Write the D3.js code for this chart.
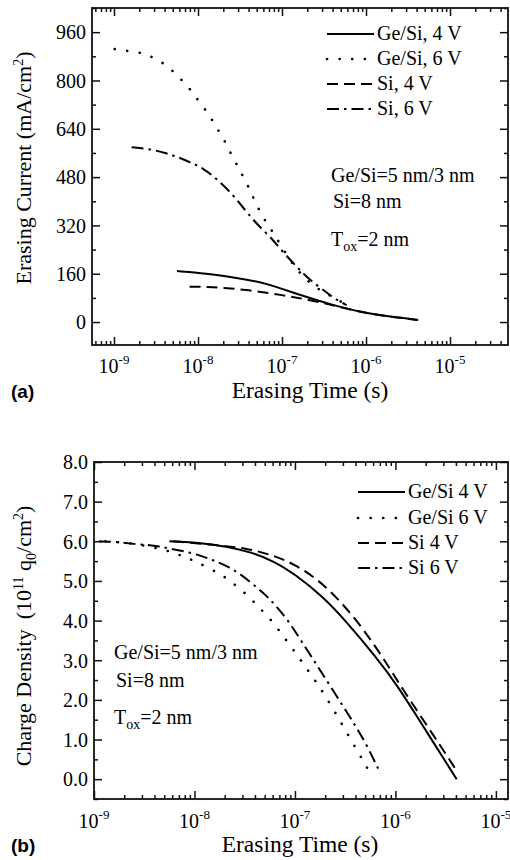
<!DOCTYPE html>
<html><head><meta charset="utf-8">
<script src="https://cdn.jsdelivr.net/npm/d3@7"></script>
<style>
body{margin:0;background:#fff}
svg{display:block}
text{font-family:"Liberation Serif","Times New Roman",serif;fill:#000}
</style>
</head><body>
<svg id="c" width="510" height="860"></svg>
<script>
// ---------- DATA ----------
const legendA = ["Ge/Si, 4 V", "Ge/Si, 6 V", "Si, 4 V", "Si, 6 V"];
const legendB = ["Ge/Si 4 V", "Ge/Si 6 V", "Si 4 V", "Si 6 V"];
const yTicksA = [0, 160, 320, 480, 640, 800, 960];
const yMinorA = [-80, 80, 240, 400, 560, 720, 880, 1040];
const yTicksB = [0, 1, 2, 3, 4, 5, 6, 7, 8];
const yMinorB = [-0.5, 0.5, 1.5, 2.5, 3.5, 4.5, 5.5, 6.5, 7.5];
const xDecades = [-9, -8, -7, -6, -5];
const notes = ["Ge/Si=5 nm/3 nm", "Si=8 nm"];

// (a) erasing current, mA/cm^2
const tGeSi4A = [5.62e-9, 7.94e-9, 1.05e-8, 2.63e-8, 6.61e-8, 1.62e-7, 4.07e-7, 8.51e-7, 2.0e-6, 4.17e-6];
const iGeSi4A = [169, 166, 162, 149, 129, 89, 56, 33, 17, 7];
const tGeSi6A = [1.02e-9, 1.48e-9, 2.09e-9, 2.88e-9, 4.27e-9, 5.89e-9, 7.94e-9, 1.02e-8, 1.32e-8, 1.62e-8, 2.0e-8, 2.40e-8, 2.88e-8, 3.47e-8, 4.17e-8, 4.79e-8, 5.89e-8, 7.24e-8, 8.32e-8, 1.10e-7, 1.51e-7, 2.14e-7, 3.09e-7, 4.07e-7, 5.89e-7];
const iGeSi6A = [904, 897, 893, 877, 851, 811, 775, 731, 692, 649, 609, 563, 523, 480, 437, 397, 348, 311, 285, 228, 172, 129, 99, 83, 56];
const tSi4A = [7.94e-9, 1.38e-8, 4.17e-8, 1.02e-7, 2.14e-7, 3.09e-7, 4.07e-7, 8.51e-7, 2.0e-6, 4.17e-6];
const iSi4A = [117, 117, 106, 89, 73, 63, 55, 33, 17, 7];
const tSi6A = [1.62e-9, 2.69e-9, 4.27e-9, 5.75e-9, 7.94e-9, 1.15e-8, 1.74e-8, 2.63e-8, 3.63e-8, 5.13e-8, 7.24e-8, 1.02e-7, 1.55e-7, 2.14e-7, 3.47e-7, 4.47e-7, 5.89e-7];
const iSi6A = [579, 573, 559, 546, 530, 510, 470, 420, 371, 321, 283, 232, 179, 139, 96, 73, 56];

// (b) charge density, 1e11 q0/cm^2
const tGeSi4B = [5.62e-9, 1.0e-8, 2.14e-8, 3.63e-8, 6.17e-8, 1.0e-7, 1.91e-7, 3.31e-7, 6.31e-7, 1.04e-6, 2.04e-6, 4.07e-6];
const qGeSi4B = [6.00, 5.98, 5.87, 5.73, 5.50, 5.17, 4.60, 3.95, 3.10, 2.38, 1.20, 0.00];
const tGeSi6B = [1.3e-9, 2.5e-9, 4.47e-9, 6.03e-9, 7.94e-9, 1.02e-8, 1.38e-8, 1.91e-8, 2.45e-8, 3.39e-8, 4.37e-8, 5.75e-8, 8.91e-8, 1.35e-7, 2.0e-7, 3.31e-7, 5.62e-7];
const qGeSi6B = [6.00, 5.95, 5.81, 5.73, 5.60, 5.50, 5.33, 5.14, 4.93, 4.64, 4.33, 4.04, 3.38, 2.75, 2.12, 1.16, 0.15];
const tSi4B = [6.17e-9, 1.45e-8, 3.31e-8, 6.17e-8, 1.0e-7, 1.91e-7, 4.07e-7, 7.94e-7, 1.11e-6, 2.51e-6, 3.98e-6];
const qSi4B = [6.00, 5.92, 5.83, 5.64, 5.42, 4.95, 4.05, 2.98, 2.37, 1.03, 0.25];
const tSi6B = [1.12e-9, 1.78e-9, 2.51e-9, 3.39e-9, 4.47e-9, 5.75e-9, 7.94e-9, 1.15e-8, 1.55e-8, 2.14e-8, 2.88e-8, 3.89e-8, 5.13e-8, 6.17e-8, 8.51e-8, 1.2e-7, 1.78e-7, 3.31e-7, 5.0e-7, 7.08e-7];
const qSi6B = [6.00, 5.98, 5.93, 5.91, 5.87, 5.81, 5.75, 5.64, 5.52, 5.37, 5.17, 4.90, 4.64, 4.43, 4.02, 3.42, 2.75, 1.68, 0.95, 0.15];

// ---------- DRAW ----------
const svg = d3.select("#c");
const styles = [
  {dash: null, cap: "butt"},
  {dash: "0.1,12.5", cap: "round", w: 2.6},
  {dash: "11,6", cap: "butt"},
  {dash: "12,5,2.5,5", cap: "butt"}
];

function zip(t, v) { return t.map((d, i) => ({t: d, v: v[i]})); }

function panel(cfg) {
  const g = svg.append("g");
  const x = d3.scaleLog().domain(cfg.xDomain).range([cfg.left, cfg.right]);
  const y = d3.scaleLinear().domain(cfg.yDomain).range([cfg.bottom, cfg.top]);

  const majors = xDecades.map(d => Math.pow(10, d)).filter(v => v >= cfg.xDomain[0] && v <= cfg.xDomain[1]);
  const minors = [];
  for (let d = -10; d <= -4; d++) for (let k = 2; k <= 9; k++) {
    const v = k * Math.pow(10, d);
    if (v >= cfg.xDomain[0] && v <= cfg.xDomain[1]) minors.push(v);
  }
  const yMinors = cfg.yMinor.filter(v => v >= cfg.yDomain[0] && v <= cfg.yDomain[1]);

  function ax(gen, tr, vals, size) {
    const a = g.append("g").attr("transform", tr)
      .call(gen.tickValues(vals).tickSize(-size).tickFormat(""));
    a.select(".domain").remove();
    a.selectAll("line").attr("stroke", "#111").attr("stroke-width", 1.5);
    return a;
  }
  ax(d3.axisBottom(x), `translate(0,${cfg.bottom})`, minors, 4);
  ax(d3.axisBottom(x), `translate(0,${cfg.bottom})`, majors, 8);
  ax(d3.axisTop(x), `translate(0,${cfg.top})`, minors, 4);
  ax(d3.axisTop(x), `translate(0,${cfg.top})`, majors, 8);
  ax(d3.axisRight(y), `translate(${cfg.right},0)`, yMinors, 4);
  ax(d3.axisRight(y), `translate(${cfg.right},0)`, cfg.yTicks, 8);
  ax(d3.axisLeft(y), `translate(${cfg.left},0)`, yMinors, 4);
  const yl = g.append("g").attr("transform", `translate(${cfg.left},0)`)
    .call(d3.axisLeft(y).tickValues(cfg.yTicks).tickSize(-8).tickPadding(6).tickFormat(cfg.yFmt));
  yl.select(".domain").remove();
  yl.selectAll("line").attr("stroke", "#111").attr("stroke-width", 1.5);
  yl.attr("font-family", null).attr("font-size", null);
  yl.selectAll("text").attr("font-size", 20).attr("dy", "0.34em").attr("fill", "#000");

  // box
  g.append("rect").attr("x", cfg.left).attr("y", cfg.top)
    .attr("width", cfg.right - cfg.left).attr("height", cfg.bottom - cfg.top)
    .attr("fill", "none").attr("stroke", "#111").attr("stroke-width", 1.8);

  // x tick labels 10^n
  majors.forEach((v) => {
    const d = Math.round(Math.log10(v));
    const t = g.append("text").attr("x", x(v)).attr("y", cfg.bottom + cfg.xlabDy)
      .attr("text-anchor", "middle").attr("font-size", 20);
    t.append("tspan").text("10");
    t.append("tspan").attr("dy", -9).attr("font-size", 13).text(String(d));
  });

  // series
  const line = d3.line().x(d => x(d.t)).y(d => y(d.v)).curve(d3.curveBasis);
  cfg.series.forEach((s, i) => {
    const st = styles[i];
    g.append("path").datum(s).attr("d", line).attr("fill", "none")
      .attr("stroke", "#000").attr("stroke-width", st.w || 2)
      .attr("stroke-linecap", st.cap)
      .attr("stroke-dasharray", st.dash);
  });

  // legend
  cfg.legend.forEach((name, i) => {
    const st = styles[i];
    const ly = cfg.legY[i];
    g.append("line").attr("x1", cfg.legX1).attr("x2", cfg.legX2).attr("y1", ly).attr("y2", ly)
      .attr("stroke", "#000").attr("stroke-width", st.w || 2)
      .attr("stroke-linecap", st.cap).attr("stroke-dasharray", st.dash);
    g.append("text").attr("x", cfg.legX2 + 3).attr("y", ly + 6).attr("font-size", 20).text(name);
  });

  // notes
  g.append("text").attr("x", cfg.noteX).attr("y", cfg.noteY[0]).attr("font-size", 20).text(notes[0]);
  g.append("text").attr("x", cfg.noteX + 2).attr("y", cfg.noteY[1]).attr("font-size", 20).text(notes[1]);
  const tox = g.append("text").attr("x", cfg.noteX).attr("y", cfg.noteY[2]).attr("font-size", 20);
  tox.append("tspan").text("T");
  tox.append("tspan").attr("dy", 5).attr("font-size", 14).text("ox");
  tox.append("tspan").attr("dy", -5).text("=2 nm");

  // x title
  g.append("text").attr("x", cfg.xTitleX).attr("y", cfg.bottom + cfg.xTitleDy)
    .attr("text-anchor", "middle").attr("font-size", 23.5).text("Erasing Time (s)");
  // panel letter
  g.append("text").attr("x", 11).attr("y", cfg.bottom + cfg.xTitleDy)
    .attr("style", "font-family:'Liberation Sans',Arial,sans-serif;font-weight:bold;font-size:19px")
    .text(cfg.letter);
  return {x, y, g};
}

const pA = panel({
  left: 92, right: 508, top: 8, bottom: 345,
  xDomain: [5.47e-10, 4.9e-5], yDomain: [-76, 1040],
  yTicks: yTicksA, yMinor: yMinorA, yFmt: d3.format("d"),
  xlabDy: 28, xTitleDy: 53, xTitleX: 310,
  series: [zip(tGeSi4A, iGeSi4A), zip(tGeSi6A, iGeSi6A), zip(tSi4A, iSi4A), zip(tSi6A, iSi6A)],
  legend: legendA, legX1: 327, legX2: 374, legY: [34, 59, 84, 109],
  noteX: 331, noteY: [182, 208, 246], letter: "(a)"
});
pA.g.append("text").attr("transform", "translate(31,168) rotate(-90)")
  .attr("text-anchor", "middle").attr("font-size", 22)
  .call(t => {
    t.append("tspan").text("Erasing Current (mA/cm");
    t.append("tspan").attr("dy", -8).attr("font-size", 14).text("2");
    t.append("tspan").attr("dy", 8).text(")");
  });

const pB = panel({
  left: 94, right: 508, top: 462, bottom: 799,
  xDomain: [1e-9, 1.32e-5], yDomain: [-0.5, 8.0],
  yTicks: yTicksB, yMinor: yMinorB, yFmt: d3.format(".1f"),
  xlabDy: 29, xTitleDy: 53, xTitleX: 300,
  series: [zip(tGeSi4B, qGeSi4B), zip(tGeSi6B, qGeSi6B), zip(tSi4B, qSi4B), zip(tSi6B, qSi6B)],
  legend: legendB, legX1: 358, legX2: 405, legY: [492, 518, 543, 568],
  noteX: 114, noteY: [659, 687, 724], letter: "(b)"
});
pB.g.append("text").attr("transform", "translate(31,636) rotate(-90)")
  .attr("text-anchor", "middle").attr("font-size", 22)
  .call(t => {
    t.append("tspan").text("Charge Density");
    t.append("tspan").attr("dx", 10).text("(10");
    t.append("tspan").attr("dy", -8).attr("font-size", 14).text("11");
    t.append("tspan").attr("dy", 8).text(" q");
    t.append("tspan").attr("dy", 5).attr("font-size", 14).text("0");
    t.append("tspan").attr("dy", -5).text("/cm");
    t.append("tspan").attr("dy", -8).attr("font-size", 14).text("2");
    t.append("tspan").attr("dy", 8).text(")");
  });
</script>
</body></html>
